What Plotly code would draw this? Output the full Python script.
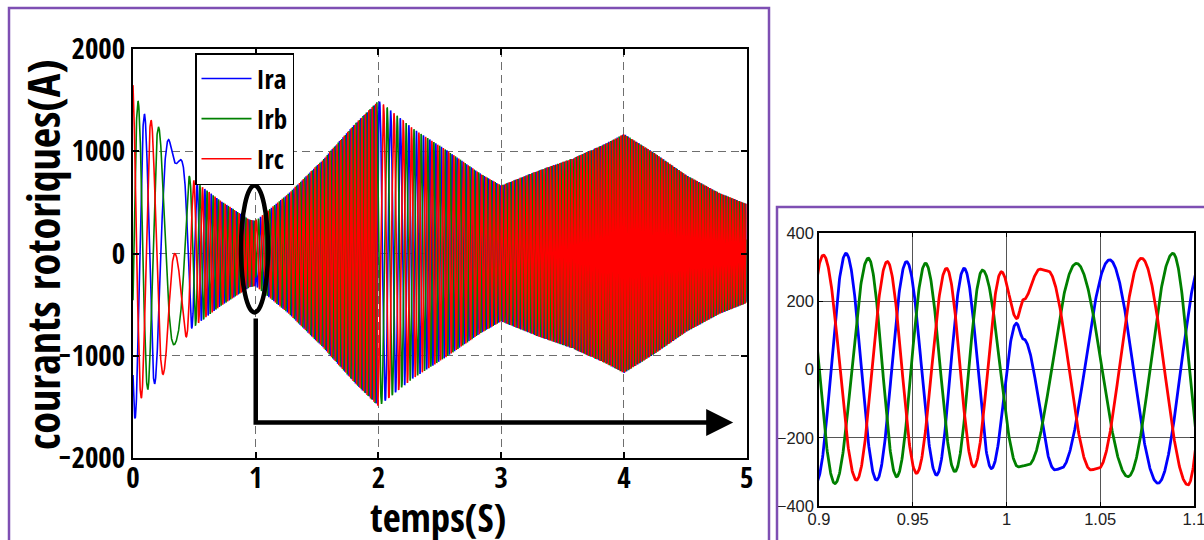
import numpy as np
import plotly.graph_objects as go

# ---------------- data ----------------
# main chart: envelope of the rotor currents (A) versus time (s)
env_t = [0.00, 0.05, 0.10, 0.20, 0.30, 0.38, 0.465, 0.71, 0.95, 1.00, 1.27, 1.54, 1.81, 2.00,
         2.28, 2.56, 2.83, 3.00, 3.30, 3.58, 3.85, 4.00, 4.24, 4.51, 4.78, 5.00]
env_a = [1700, 1450, 1350, 1250, 1100, 950, 740, 518, 330, 320, 590, 910, 1270, 1495,
         1222, 1007, 782, 665, 811, 929, 1075, 1170, 990, 765, 590, 485]
# rotor current frequency (Hz, sign = phase sequence)
freq_t = [0.00, 0.15, 0.30, 0.34, 0.40, 0.45, 0.55, 0.70, 0.90, 1.00, 1.0005, 1.15, 1.50,
          1.98, 2.00, 2.20, 2.50, 3.00, 3.50, 4.00, 5.00]
freq_hz = [-7, -6, -3, 0, 3, 7, 16, 24, 29, 31, -18, -26, -33,
           -36, -10, -14, -22, -32, -40, -45, -45]
phase0_deg = 225.6
phase_shift_deg = {"Ira": 0.0, "Irb": -120.0, "Irc": 120.0}

# zoomed chart (0.9 s .. 1.1 s): successive extrema (time, value) of each phase
ira_t = [0.8985, 0.9144, 0.9307, 0.9467, 0.9627, 0.9774, 0.9920, 1.0053, 1.0090, 1.0258,
         1.0290, 1.0550, 1.0808, 1.1050]
ira_v = [-330, 341, -324, 317, -309, 297, -290, 136, 90, -294, -290, 322, -333, 330]
irb_t = [0.8920, 0.9085, 0.9263, 0.9414, 0.9568, 0.9725, 0.9872, 1.0062, 1.0115, 1.0373,
         1.0648, 1.0888, 1.1060]
irb_v = [320, -334, 327, -314, 312, -299, 292, -285, -280, 312, -314, 341, -320]
irc_t = [0.8860, 0.9023, 0.9200, 0.9364, 0.9520, 0.9680, 0.9826, 0.9973, 1.0055, 1.0090,
         1.0178, 1.0220, 1.0450, 1.0490, 1.0720, 1.0968, 1.1120]
irc_v = [-320, 336, -324, 317, -304, 297, -285, 287, 150, 205, 295, 290, -294, -290, 327,
         -338, 300]

series_names = ["Ira", "Irb", "Irc"]
series_colors = {"Ira": "#0000ff", "Irb": "#008000", "Irc": "#ff0000"}

main_xticks = [0, 1, 2, 3, 4, 5]
main_yticks = [-2000, -1000, 0, 1000, 2000]
zoom_xticks = [0.9, 0.95, 1.0, 1.05, 1.1]
zoom_xticklabels = ["0.9", "0.95", "1", "1.05", "1.1"]
zoom_yticks = [-400, -200, 0, 200, 400]

# ---------------- build the curves ----------------
t = np.linspace(0.0, 5.0, 5001)
amp = np.interp(t, env_t, env_a)
f = np.interp(t, freq_t, freq_hz)
dt = np.diff(t)
theta = np.deg2rad(phase0_deg) + 2 * np.pi * np.concatenate(([0.0], np.cumsum(0.5 * (f[1:] + f[:-1]) * dt)))


def halfcos(ts, vs, step=0.0002):
    xs, ys = [], []
    for i in range(len(ts) - 1):
        u = np.arange(ts[i], ts[i + 1], step)
        w = (u - ts[i]) / (ts[i + 1] - ts[i])
        xs.append(u)
        ys.append(vs[i] + (vs[i + 1] - vs[i]) * (1 - np.cos(np.pi * w)) / 2)
    xs.append([ts[-1]])
    ys.append([vs[-1]])
    return np.concatenate(xs), np.concatenate(ys)


zoom_data = {"Ira": (ira_t, ira_v), "Irb": (irb_t, irb_v), "Irc": (irc_t, irc_v)}

W, H = 1204, 540
BOLDF = "'Open Sans Condensed', 'Roboto Condensed', 'DejaVu Sans Condensed', sans-serif"
ARIAL = "'Liberation Sans', Arial, sans-serif"

fig = go.Figure()
for name in series_names:
    y = amp * np.cos(theta + np.deg2rad(phase_shift_deg[name]))
    fig.add_trace(go.Scatter(x=t, y=y, mode="lines", name=name, legendgroup=name,
                             line=dict(color=series_colors[name], width=1.6),
                             xaxis="x", yaxis="y"))
for name in series_names:
    zx, zy = halfcos(*zoom_data[name])
    fig.add_trace(go.Scatter(x=zx, y=zy, mode="lines", name=name, showlegend=False,
                             line=dict(color=series_colors[name], width=2.8),
                             xaxis="x2", yaxis="y2"))

main_axis = dict(showgrid=True, gridcolor="#6e6e6e", gridwidth=1.4, griddash="8px,5px",
                 showline=True, linecolor="black", linewidth=2, mirror="ticks",
                 ticks="inside", ticklen=6, tickcolor="black", tickwidth=1.5,
                 zeroline=False, automargin=False,
                 tickfont=dict(family=BOLDF, size=29, color="black", weight="bold"))
zoom_axis = dict(showgrid=True, gridcolor="#555555", gridwidth=1,
                 showline=True, linecolor="black", linewidth=1.5, mirror="ticks",
                 ticks="inside", ticklen=4, tickcolor="black",
                 zeroline=False, automargin=False, ticklabeloverflow="allow",
                 tickfont=dict(family=ARIAL, size=16.5, color="#222"))

fig.update_layout(
    width=W, height=H, template="none",
    margin=dict(l=0, r=0, t=0, b=0),
    paper_bgcolor="white", plot_bgcolor="white",
    showlegend=True,
    legend=dict(x=195 / W, y=1 - 53 / H, xanchor="left", yanchor="top",
                bgcolor="white", bordercolor="black", borderwidth=1.5,
                font=dict(family=BOLDF, size=27, color="black", weight="bold"),
                itemwidth=50, tracegroupgap=2),
    xaxis=dict(domain=[133 / W, 746.7 / W], range=[0, 5], tickvals=main_xticks,
               ticklabelstandoff=-7, **main_axis),
    yaxis=dict(domain=[1 - 458 / H, 1 - 49 / H], range=[-2000, 2000], tickvals=main_yticks,
               **main_axis),
    xaxis2=dict(domain=[819 / W, 1194 / W], range=[0.9, 1.1], tickvals=zoom_xticks,
                ticktext=zoom_xticklabels, anchor="y2", ticklabelstandoff=-3, **zoom_axis),
    yaxis2=dict(domain=[1 - 506 / H, 1 - 233.3 / H], range=[-400, 400], tickvals=zoom_yticks,
                anchor="x2", **zoom_axis),
)

# axis titles
fig.add_annotation(text="courants rotoriques(A)", xref="paper", yref="paper",
                   x=43 / W, y=1 - 255 / H, xanchor="center", yanchor="middle", textangle=-90,
                   showarrow=False,
                   font=dict(family=BOLDF, size=44, color="black", weight="bold"))
fig.add_annotation(text="temps(S)", xref="paper", yref="paper",
                   x=438 / W, y=1 - 516 / H, xanchor="center", yanchor="middle",
                   showarrow=False,
                   font=dict(family=BOLDF, size=39, color="black", weight="bold"))

# ellipse and arrow marking the zoomed region
fig.add_shape(type="circle", xref="x", yref="y", x0=0.88, x1=1.10, y0=-577, y1=665,
              line=dict(color="black", width=4.5))
fig.add_shape(type="path", xref="x", yref="y", path="M 1,-635 L 1,-1652 L 4.80,-1652",
              line=dict(color="black", width=4.5))
fig.add_annotation(x=4.89, y=-1652, ax=4.7, ay=-1652, xref="x", yref="y", axref="x", ayref="y",
                   text="", showarrow=True, arrowhead=2, arrowsize=1.2, arrowwidth=4.5,
                   arrowcolor="black")

# purple frames around both panels
fig.add_shape(type="rect", xref="paper", yref="paper", x0=9 / W, x1=769 / W,
              y0=-0.02, y1=1 - 8 / H, line=dict(color="#7e4fb3", width=2.5), layer="above")
fig.add_shape(type="rect", xref="paper", yref="paper", x0=777 / W, x1=1.02,
              y0=-0.02, y1=1 - 207 / H, line=dict(color="#7e4fb3", width=2.5), layer="above")

fig.write_html("out.html", config={"displayModeBar": False},
               post_script="document.body.style.margin='0';document.body.style.overflow='hidden';")
